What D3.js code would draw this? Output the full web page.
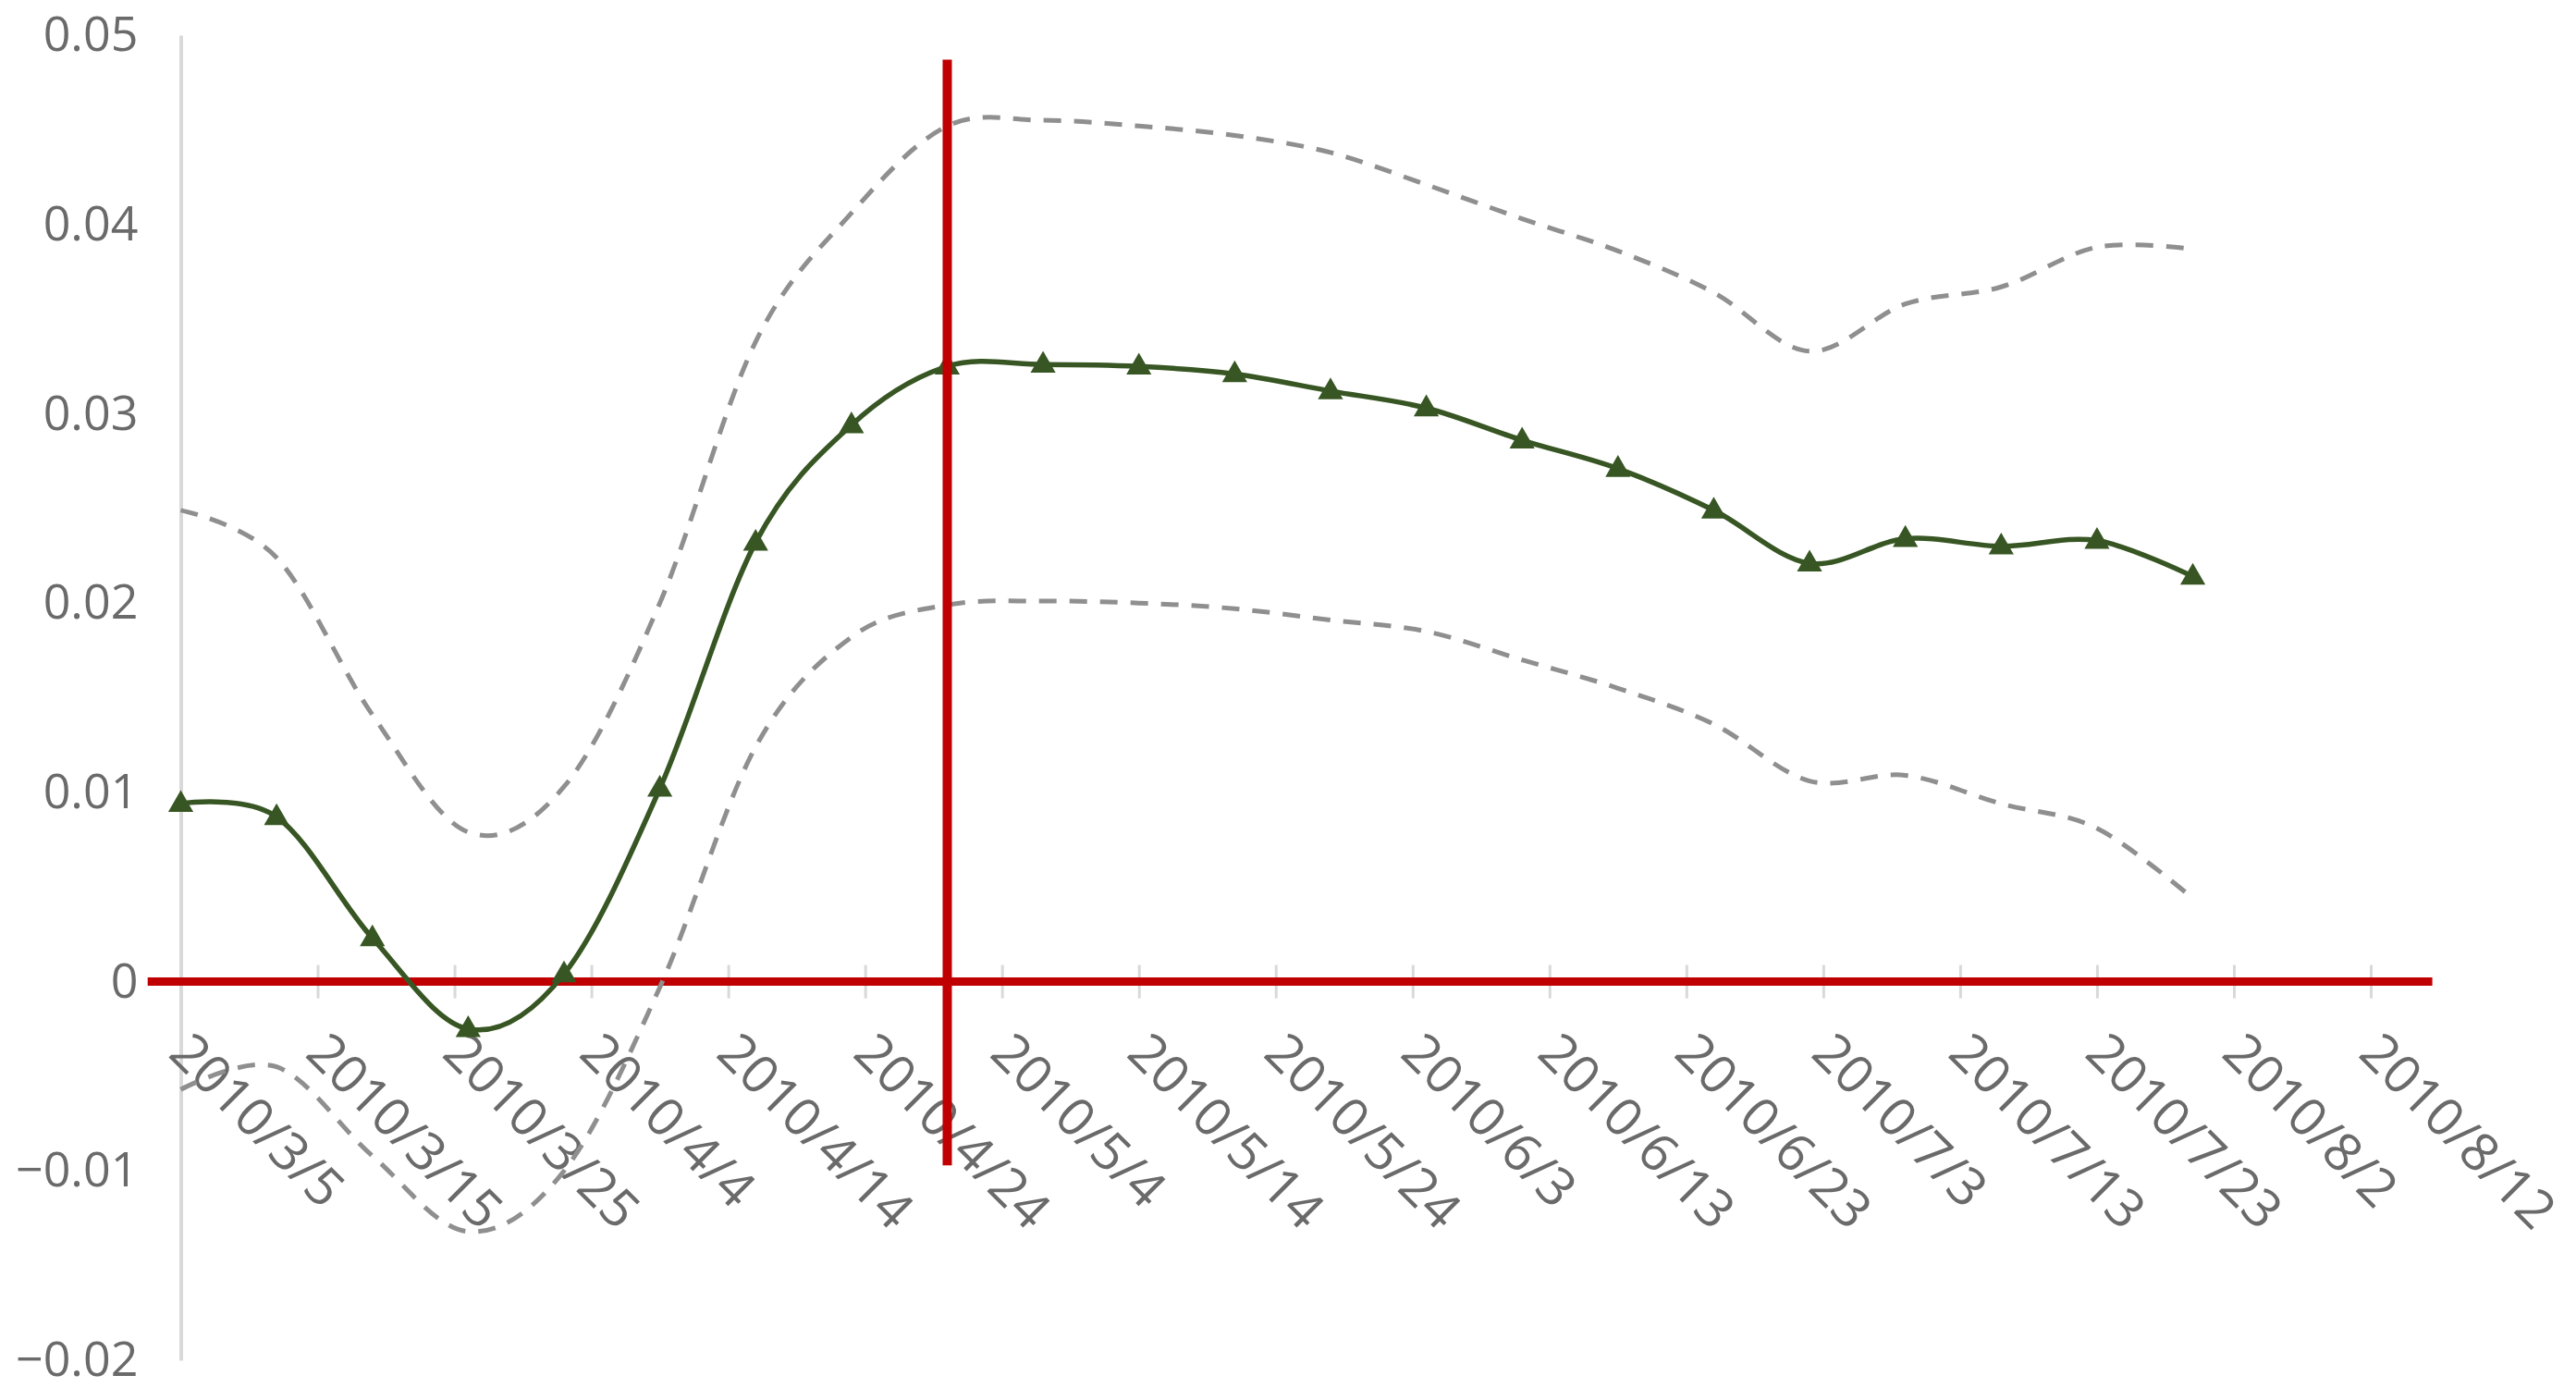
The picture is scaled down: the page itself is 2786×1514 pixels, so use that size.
<!DOCTYPE html>
<html>
<head>
<meta charset="utf-8">
<script src="https://cdn.jsdelivr.net/npm/d3@7"></script>
<style>
  html, body { margin: 0; padding: 0; background: #fff; }
  svg { display: block; }
</style>
</head>
<body>
<svg id="chart" width="2786" height="1514"></svg>
<script>
// ---------------- data ----------------
const dates = ["2010/3/5","2010/3/12","2010/3/19","2010/3/26","2010/4/2","2010/4/9","2010/4/16",
  "2010/4/23","2010/4/30","2010/5/7","2010/5/14","2010/5/21","2010/5/28","2010/6/4","2010/6/11",
  "2010/6/18","2010/6/25","2010/7/2","2010/7/9","2010/7/16","2010/7/23","2010/7/30"];
const estimate = [0.0094, 0.0087, 0.0023, -0.0025, 0.0004, 0.0102, 0.0232, 0.0294, 0.0325, 0.0326,
  0.0325, 0.0321, 0.0312, 0.0303, 0.0286, 0.0271, 0.0249, 0.0221, 0.0234, 0.0230, 0.0233, 0.0214];
const upper = [0.0249, 0.0224, 0.0141, 0.0079, 0.0103, 0.0200, 0.0338, 0.0406, 0.0452, 0.0455,
  0.0452, 0.0447, 0.0438, 0.0421, 0.0403, 0.0386, 0.0364, 0.0333, 0.0358, 0.0367, 0.0388, 0.0387];
const lower = [-0.0057, -0.0045, -0.0092, -0.0132, -0.0100, -0.0003, 0.0124, 0.0182, 0.0199, 0.0201,
  0.0200, 0.0197, 0.0191, 0.0185, 0.0170, 0.0155, 0.0136, 0.0106, 0.0109, 0.0094, 0.0081, 0.0044];
const xTickLabels = ["2010/3/5","2010/3/15","2010/3/25","2010/4/4","2010/4/14","2010/4/24","2010/5/4",
  "2010/5/14","2010/5/24","2010/6/3","2010/6/13","2010/6/23","2010/7/3","2010/7/13","2010/7/23",
  "2010/8/2","2010/8/12"];
const yTicks = [0.05, 0.04, 0.03, 0.02, 0.01, 0, -0.01, -0.02];
const yTickLabels = ["0.05", "0.04", "0.03", "0.02", "0.01", "0", "\u22120.01", "\u22120.02"];
const markerDate = "2010/4/30";            // vertical red reference line
const markerSpan = [0.0487, -0.0097];
const zeroSpan = ["2010/3/2 14:00", "2010/8/16 12:00"]; // horizontal red reference line

// ---------------- setup ----------------
const parse = s => {
  const [d, t] = s.split(" ");
  const [Y, M, D] = d.split("/").map(Number);
  let h = 0, m = 0;
  if (t) [h, m] = t.split(":").map(Number);
  return new Date(Y, M - 1, D, h, m);
};

const svg = d3.select("#chart");
const W = 2786, H = 1514;
svg.append("rect").attr("width", W).attr("height", H).attr("fill", "#fff");

const x = d3.scaleTime()
  .domain([parse(xTickLabels[0]), parse(xTickLabels[xTickLabels.length - 1])])
  .range([195.5, 2564]);
const y = d3.scaleLinear().domain([-0.02, 0.05]).range([1471, 38]);

const FONT = "'Open Sans', 'Noto Sans', sans-serif";
const TEXT = "#6a6a6a";

// y axis
const yAxis = d3.axisLeft(y)
  .tickValues(yTicks)
  .tickSize(0)
  .tickPadding(46)
  .tickFormat((d, i) => yTickLabels[i]);
const gy = svg.append("g").attr("transform", `translate(${x.range()[0]},0)`).call(yAxis);
gy.select(".domain").attr("stroke", "#d9d9d9").attr("stroke-width", 4);
gy.selectAll("text").attr("font-family", FONT).attr("font-size", 52).attr("fill", TEXT);

// x axis ticks (crossing the zero line)
const tickDates = xTickLabels.map(parse);
const xAxis = d3.axisBottom(x).tickValues(tickDates).tickSize(36).tickFormat("");
const gx = svg.append("g").attr("transform", `translate(0,${y(0) - 18})`).call(xAxis);
gx.select(".domain").remove();
gx.selectAll(".tick line").attr("stroke", "#d9d9d9").attr("stroke-width", 3);

// x labels, rotated
svg.append("g").selectAll("text").data(xTickLabels).join("text")
  .attr("transform", d => `translate(${x(parse(d)) - 15},${y(0) + 80}) rotate(45)`)
  .attr("font-family", FONT).attr("font-size", 57).attr("fill", TEXT)
  .text(d => d);

// zero reference line
svg.append("line")
  .attr("x1", x(parse(zeroSpan[0]))).attr("x2", x(parse(zeroSpan[1])))
  .attr("y1", y(0)).attr("y2", y(0))
  .attr("stroke", "#c00000").attr("stroke-width", 9);

// series
const pts = dates.map((d, i) => ({ date: parse(d), est: estimate[i], up: upper[i], lo: lower[i] }));
const curve = d3.curveCardinal.tension(0);
const mk = key => d3.line().x(d => x(d.date)).y(d => y(d[key])).curve(curve);

["up", "lo"].forEach(k => {
  svg.append("path").datum(pts).attr("d", mk(k))
    .attr("fill", "none").attr("stroke", "#8f8f8f").attr("stroke-width", 5)
    .attr("stroke-dasharray", "19,14");
});

svg.append("path").datum(pts).attr("d", mk("est"))
  .attr("fill", "none").attr("stroke", "#375623").attr("stroke-width", 5.5);

const tri = d3.symbol().type(d3.symbolTriangle).size(320);
svg.append("g").selectAll("path").data(pts).join("path")
  .attr("d", tri)
  .attr("transform", d => `translate(${x(d.date)},${y(d.est) + 1})`)
  .attr("fill", "#375623");

// vertical reference line
svg.append("line")
  .attr("x1", x(parse(markerDate))).attr("x2", x(parse(markerDate)))
  .attr("y1", y(markerSpan[0])).attr("y2", y(markerSpan[1]))
  .attr("stroke", "#c00000").attr("stroke-width", 10);
</script>
</body>
</html>
